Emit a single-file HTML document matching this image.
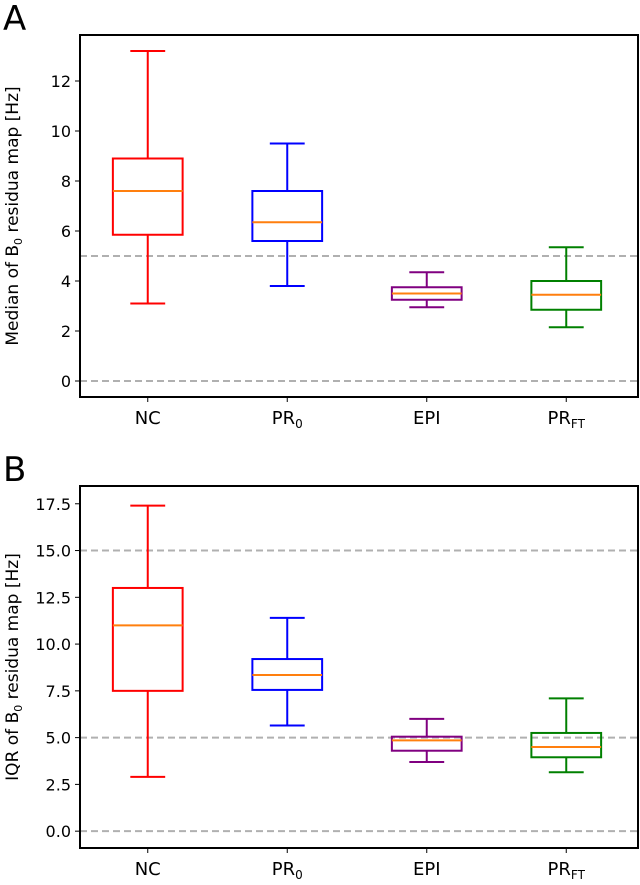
<!DOCTYPE html>
<html><head><meta charset="utf-8"><style>
html,body{margin:0;padding:0;background:#fff;}
svg text{font-family:"DejaVu Sans","Liberation Sans",sans-serif;fill:#000;}
</style></head><body>
<svg id="c" width="640" height="880" xmlns="http://www.w3.org/2000/svg"></svg>
<script>
const categories = ["NC","PR0","EPI","PRFT"];
const colors = ["#ff0000","#0000ff","#800080","#008000"];
// [whiskerLow, q1, median, q3, whiskerHigh]
const medianStats = [[3.1,5.85,7.6,8.9,13.2],[3.8,5.6,6.35,7.6,9.5],[2.95,3.25,3.5,3.75,4.35],[2.15,2.85,3.45,4.0,5.35]];
const iqrStats = [[2.9,7.5,11.0,13.0,17.4],[5.65,7.55,8.35,9.2,11.4],[3.7,4.3,4.85,5.05,6.0],[3.15,3.95,4.5,5.25,7.1]];
const topTicks = [0,2,4,6,8,10,12];
const topTickLabels = ["0","2","4","6","8","10","12"];
const botTicks = [0,2.5,5,7.5,10,12.5,15,17.5];
const botTickLabels = ["0.0","2.5","5.0","7.5","10.0","12.5","15.0","17.5"];
const topRefLines = [0,5];
const botRefLines = [0,5,15];

const svg=document.getElementById('c');
const NS="http://www.w3.org/2000/svg";
function mk(tag,attrs,parent){const e=document.createElementNS(NS,tag);for(const k in attrs)e.setAttribute(k,attrs[k]);(parent||svg).appendChild(e);return e;}

function panel(opt){
  const L=80,R=638,T=opt.top,B=opt.bottom;
  const g=mk('g',{});
  
  
  const y=v=>B-(v-opt.ymin)/(opt.ymax-opt.ymin)*(B-T);
  const x=i=>L+(i+0.5)/categories.length*(R-L)-2;
  const step=(R-L)/categories.length;
  opt.refs.forEach(v=>{const l=mk('line',{x1:L,x2:R,y1:y(v),y2:y(v),stroke:'#b0b0b0','stroke-width':2,'stroke-dasharray':'7,4'},g);
    
    });
  opt.stats.forEach((s,i)=>{
    const cx=x(i),bw=step*0.5,cw=bw/2,c=colors[i];
    const bg=mk('g',{},g);
    
    
    mk('line',{x1:cx,x2:cx,y1:y(s[0]),y2:y(s[1]),stroke:c,'stroke-width':2},bg);
    mk('line',{x1:cx,x2:cx,y1:y(s[3]),y2:y(s[4]),stroke:c,'stroke-width':2},bg);
    mk('line',{x1:cx-cw/2,x2:cx+cw/2,y1:y(s[0]),y2:y(s[0]),stroke:c,'stroke-width':2},bg);
    mk('line',{x1:cx-cw/2,x2:cx+cw/2,y1:y(s[4]),y2:y(s[4]),stroke:c,'stroke-width':2},bg);
    mk('rect',{x:cx-bw/2,y:y(s[3]),width:bw,height:y(s[1])-y(s[3]),fill:'none',stroke:c,'stroke-width':2},bg);
    mk('line',{x1:cx-bw/2,x2:cx+bw/2,y1:y(s[2]),y2:y(s[2]),stroke:'#ff7f0e','stroke-width':2},bg);
    mk('line',{x1:cx,x2:cx,y1:B,y2:B+5,stroke:'#000','stroke-width':1},g);
    const t=mk('text',{x:cx,y:B+27,'font-size':18,'text-anchor':'middle'},g);
    
    
    const lab=categories[i];
    if(lab==='PR0'){t.innerHTML='PR<tspan font-size="12" dy="4">0</tspan>';}
    else if(lab==='PRFT'){t.innerHTML='PR<tspan font-size="12" dy="4">FT</tspan>';}
    else t.textContent=lab;
  });
  opt.ticks.forEach((v,i)=>{
    mk('line',{x1:L-5,x2:L,y1:y(v),y2:y(v),stroke:'#000','stroke-width':1},g);
    const t=mk('text',{x:L-9,y:y(v)+6,'font-size':16,'text-anchor':'end'},g);
    
    
    t.textContent=opt.labels[i];
  });
  const fr=mk('rect',{x:L,y:T,width:R-L,height:B-T,fill:'none',stroke:'#000','stroke-width':2},g);
  
  
  const cy=(T+B)/2;
  const yt=mk('text',{x:0,y:0,'font-size':17,'text-anchor':'middle',transform:`translate(18,${cy}) rotate(-90)`},g);
  
  
  yt.innerHTML=opt.title[0]+'B<tspan font-size="11" dy="4">0</tspan><tspan dy="-4"> residua map [Hz]</tspan>';
  const pl=mk('text',{x:3,y:T-5,'font-size':34},g);
  
  
  pl.textContent=opt.letter;
}
panel({name:'panel-a-median',top:35,bottom:397,ymin:-0.64,ymax:13.84,stats:medianStats,ticks:topTicks,labels:topTickLabels,refs:topRefLines,title:['Median of '],letter:'A'});
panel({name:'panel-b-iqr',top:486,bottom:848,ymin:-0.9,ymax:18.45,stats:iqrStats,ticks:botTicks,labels:botTickLabels,refs:botRefLines,title:['IQR of '],letter:'B'});
</script>
</body></html>
